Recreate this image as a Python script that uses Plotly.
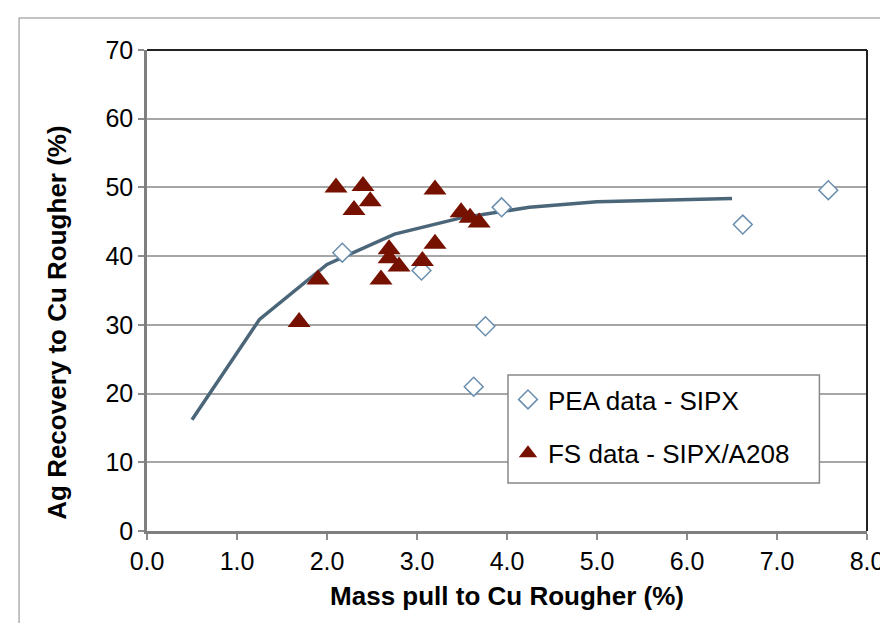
import plotly.graph_objects as go

# Trend curve
curve_x = [0.5, 1.25, 2.0, 2.75, 3.5, 4.25, 5.0, 5.75, 6.5]
curve_y = [16.2, 30.8, 38.8, 43.2, 45.6, 47.1, 47.9, 48.2, 48.4]

# PEA data - SIPX
pea_x = [2.17, 3.05, 3.76, 3.94, 3.63, 6.62, 7.57]
pea_y = [40.5, 37.9, 29.8, 47.1, 21.0, 44.6, 49.6]

# FS data - SIPX/A208
fs_x = [2.10, 2.40, 2.48, 2.30, 3.20, 3.49, 3.59, 3.69, 2.69, 2.69, 2.80, 3.20, 3.06, 2.60, 1.90, 1.69]
fs_y = [50.0, 50.2, 48.0, 46.7, 49.7, 46.4, 45.6, 44.9, 41.0, 39.7, 38.5, 41.8, 39.3, 36.6, 36.6, 30.4]

x_ticks = [0, 1, 2, 3, 4, 5, 6, 7, 8]
y_ticks = [0, 10, 20, 30, 40, 50, 60, 70]

FONT = "Arial, Liberation Sans, sans-serif"

fig = go.Figure()
fig.add_trace(go.Scatter(x=curve_x, y=curve_y, mode="lines",
                         line=dict(color="#4b6679", width=3.5),
                         showlegend=False, hoverinfo="skip"))
fig.add_trace(go.Scatter(x=pea_x, y=pea_y, mode="markers", name="PEA data - SIPX",
                         legendgroup="a",
                         marker=dict(symbol="diamond", size=14.5, color="white",
                                     line=dict(color="#6a8eae", width=1.5))))
fig.add_trace(go.Scatter(x=fs_x, y=fs_y, mode="markers", name="FS data - SIPX/A208",
                         legendgroup="b",
                         marker=dict(symbol="triangle-up", size=20, color="#761100",
                                     line=dict(width=0))))

L, T, R, B = 139, 42, 888 - 865, 623 - 523
pw, ph = 888 - L - R, 623 - T - B

# legend box in pixels (left, top, right, bottom)
LX0, LY0, LX1, LY1 = 503, 367, 817, 475

fig.update_layout(
    width=888, height=623,
    margin=dict(l=L, r=R, t=T, b=B),
    paper_bgcolor="white", plot_bgcolor="white",
    font=dict(family=FONT, size=25, color="black"),
    showlegend=True,
    legend=dict(x=(LX0 - L) / pw, y=(523 - LY0 - 1) / ph, xanchor="left", yanchor="top",
                bgcolor="rgba(0,0,0,0)", borderwidth=0,
                font=dict(size=26, family=FONT), tracegroupgap=17,
                traceorder="grouped", itemwidth=30),
    xaxis=dict(range=[0, 8], tickvals=x_ticks, tickformat=".1f",
               showgrid=False, zeroline=False,
               showline=True, linecolor="#7f7f7f", linewidth=2.5,
               ticks="outside", ticklen=6, tickwidth=1.5, tickcolor="#8c8c8c",
               tickfont=dict(size=25),
               title=dict(text="<b>Mass pull to Cu Rougher (%)</b>", font=dict(size=26), standoff=14)),
    yaxis=dict(range=[0, 70], tickvals=y_ticks,
               showgrid=True, gridcolor="#a6a6a6", gridwidth=1.5, zeroline=False,
               showline=True, linecolor="#7f7f7f", linewidth=2.5,
               ticks="outside", ticklen=6, tickwidth=1.5, tickcolor="#8c8c8c",
               tickfont=dict(size=25)),
    shapes=[
        # outer chart frame
        dict(type="rect", xref="paper", yref="paper",
             x0=(10 - L) / pw, x1=(1000 - L) / pw, y0=(523 - 1000) / ph, y1=(523 - 10) / ph,
             line=dict(color="#b0b0b0", width=1.5), fillcolor="rgba(0,0,0,0)", layer="below"),
        # top and right plot border
        dict(type="line", xref="paper", yref="paper", x0=0, x1=1, y0=1, y1=1,
             line=dict(color="#222222", width=2)),
        dict(type="line", xref="paper", yref="paper", x0=1, x1=1, y0=0, y1=1,
             line=dict(color="#222222", width=2)),
        # legend box
        dict(type="rect", xref="paper", yref="paper", layer="above",
             x0=(LX0 - L) / pw, x1=(LX1 - L) / pw, y0=(523 - LY1) / ph, y1=(523 - LY0) / ph,
             line=dict(color="#888888", width=1.5), fillcolor="white"),
    ],
    annotations=[
        dict(text="<b>Ag Recovery to Cu Rougher (%)</b>", textangle=-90,
             xref="paper", yref="paper", x=(48 - L) / pw, y=(523 - 315) / ph,
             xanchor="center", yanchor="middle", showarrow=False,
             font=dict(size=26, family=FONT)),
    ],
)

fig.write_html("out.html")
